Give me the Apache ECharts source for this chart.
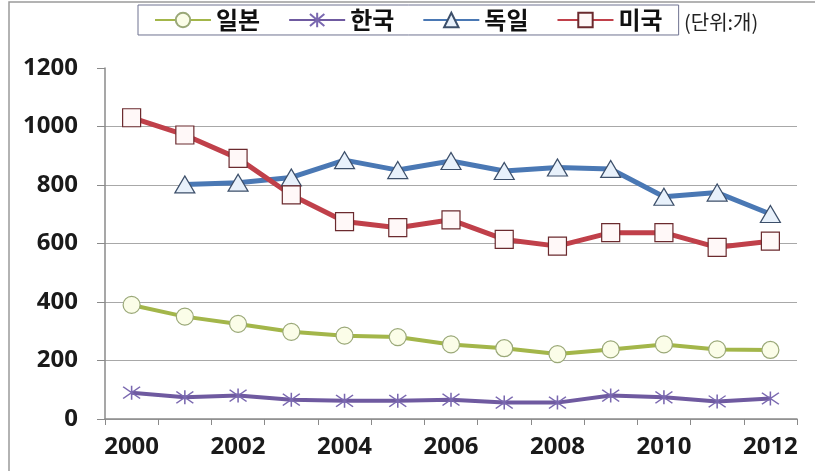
<!DOCTYPE html>
<html>
<head>
<meta charset="utf-8">
<script src="https://cdn.jsdelivr.net/npm/echarts@6/dist/echarts.min.js"></script>
<style>
  html, body { margin: 0; padding: 0; background: #ffffff; }
  #chart { width: 815px; height: 471px; }
</style>
</head>
<body>
<div id="chart"></div>
<script>
// Years on the category axis
var years = ['2000', '2001', '2002', '2003', '2004', '2005', '2006',
             '2007', '2008', '2009', '2010', '2011', '2012'];

// Counts per country (unit: 개)
var japan   = [390, 350, 325, 298, 285, 280, 255, 242, 222, 238, 255, 238, 236];
var korea   = [90, 74, 80, 66, 62, 62, 66, 56, 56, 80, 74, 60, 70];
var germany = [null, 802, 808, 826, 885, 851, 882, 848, 860, 855, 760, 774, 701];
var usa     = [1030, 971, 891, 766, 675, 654, 681, 614, 591, 637, 637, 587, 608];

var seriesNames = ['일본', '한국', '독일', '미국'];
var unitText = '(단위:개)';

var axisFont = 'Noto Sans, Liberation Sans, sans-serif';
var cjkFont = 'Noto Sans CJK KR, sans-serif';

// asterisk-style marker: an X crossed by a vertical stroke
var starPath = 'path://M0,1L12,11M12,1L0,11M6,0L6,12';

var chart = echarts.init(document.getElementById('chart'), null, { renderer: 'canvas' });

chart.setOption({
  animation: false,
  backgroundColor: '#ffffff',
  grid: { left: 105, right: 18, top: 68, bottom: 52, containLabel: false },
  legend: {
    data: seriesNames,
    left: 138,
    top: 5,
    padding: [3, 16, 3, 16],
    itemGap: 28,
    itemWidth: 56,
    itemHeight: 18,
    borderColor: '#6f7391',
    borderWidth: 1,
    textStyle: { fontFamily: cjkFont, fontSize: 24, fontWeight: 'bold', color: '#111' }
  },
  graphic: [
    {
      type: 'polyline',
      shape: { points: [[9, 471], [9, 2], [815, 2]] },
      style: { stroke: '#9a9a9a', lineWidth: 1.5, fill: null },
      silent: true
    },
    {
      type: 'text',
      left: 684,
      top: 12,
      style: { text: unitText, fontFamily: cjkFont, fontSize: 20, fill: '#222' }
    }
  ],
  xAxis: {
    type: 'category',
    data: years,
    boundaryGap: true,
    axisLine: { lineStyle: { color: '#8a8a8a', width: 1.5 } },
    axisTick: { show: true, interval: 0, length: 6, lineStyle: { color: '#8a8a8a' } },
    axisLabel: {
      interval: 1,
      margin: 16,
      fontFamily: axisFont,
      fontSize: 24,
      fontWeight: 'bold',
      color: '#1a1a1a'
    },
    splitLine: { show: false }
  },
  yAxis: {
    type: 'value',
    min: 0,
    max: 1200,
    interval: 200,
    axisLine: { show: true, lineStyle: { color: '#8a8a8a', width: 1.5 } },
    axisTick: { show: true, length: 8, lineStyle: { color: '#8a8a8a' } },
    axisLabel: {
      margin: 27,
      fontFamily: axisFont,
      fontSize: 24,
      fontWeight: 'bold',
      color: '#1a1a1a',
      formatter: function (v) { return String(v); }
    },
    splitLine: {
      show: true,
      showMaxLine: false,
      lineStyle: { color: '#a8a8a8', width: 1 }
    }
  },
  series: [
    {
      name: seriesNames[0],
      type: 'line',
      data: japan,
      symbol: 'circle',
      symbolSize: 17,
      lineStyle: { color: '#a3b64a', width: 4 },
      itemStyle: { color: '#fbfde8', borderColor: '#9aa878', borderWidth: 1.2 }
    },
    {
      name: seriesNames[1],
      type: 'line',
      data: korea,
      symbol: starPath,
      symbolSize: [17, 14],
      lineStyle: { color: '#6f5aa0', width: 4 },
      itemStyle: { color: '#7a68b0', borderColor: '#7a68b0', borderWidth: 1.4 }
    },
    {
      name: seriesNames[2],
      type: 'line',
      data: germany,
      symbol: 'triangle',
      symbolSize: [20, 17],
      lineStyle: { color: '#4a78b4', width: 5 },
      itemStyle: { color: '#e8f1fb', borderColor: '#3c4f6a', borderWidth: 1.2 }
    },
    {
      name: seriesNames[3],
      type: 'line',
      data: usa,
      symbol: 'rect',
      symbolSize: 18,
      lineStyle: { color: '#c0404a', width: 5 },
      itemStyle: { color: '#fff8f8', borderColor: '#6b2a2e', borderWidth: 1.2 }
    }
  ]
});
</script>
</body>
</html>
